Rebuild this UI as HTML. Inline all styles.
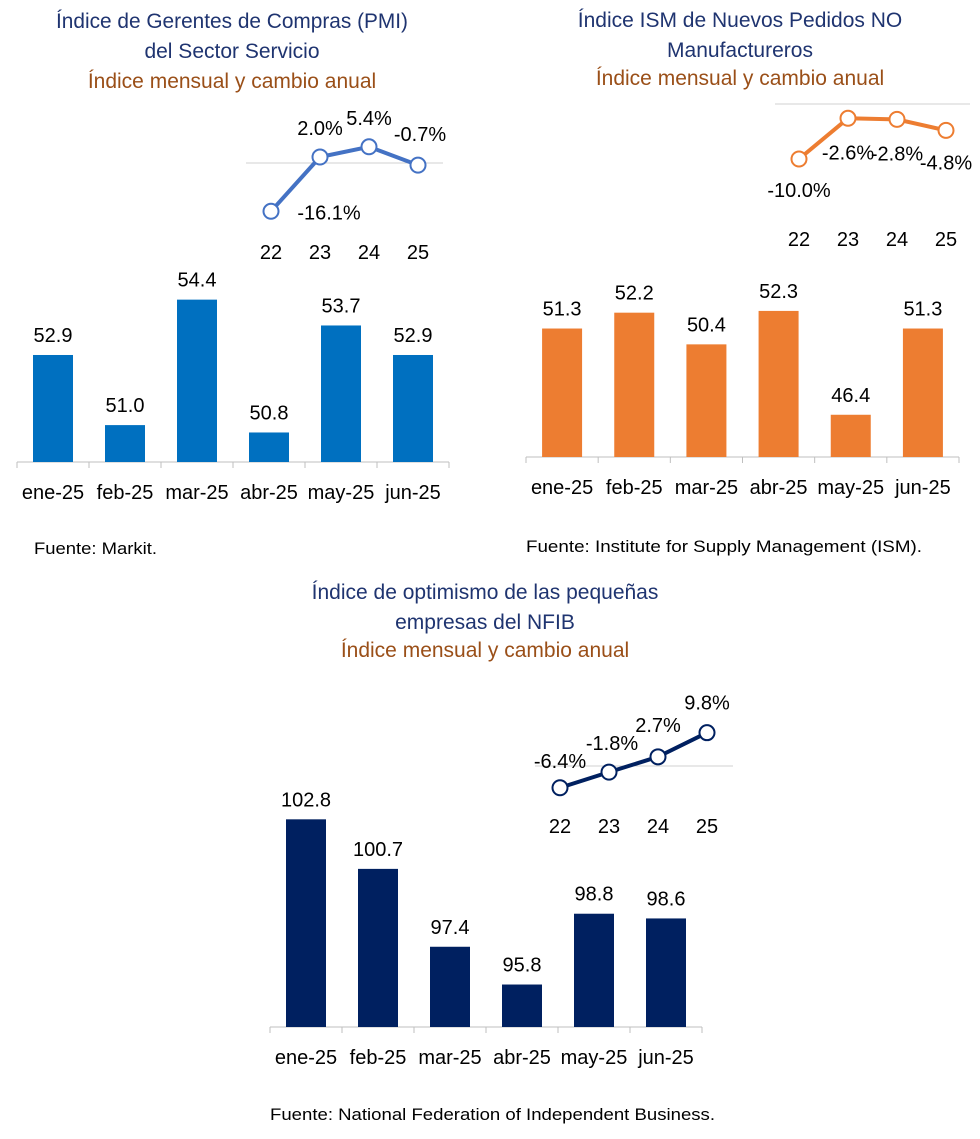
<!DOCTYPE html>
<html><head><meta charset="utf-8"><style>
body{margin:0;background:#fff}
svg{display:block}
text{font-family:"Liberation Sans",sans-serif}
.t{font-family:"Liberation Sans Narrow","Liberation Sans",sans-serif;font-size:21px;text-anchor:middle}
.blue{fill:#1f3470}.brown{fill:#9a4f18}
.v{font-size:20px;fill:#000;text-anchor:middle}
.s{font-family:"Liberation Sans Narrow","Liberation Sans",sans-serif;font-size:17px;fill:#000}
</style></head><body>
<svg id="c" width="980" height="1139" xmlns="http://www.w3.org/2000/svg">
<text class="t blue" x="232" y="28" textLength="352" lengthAdjust="spacingAndGlyphs">Índice de Gerentes de Compras (PMI)</text>
<text class="t blue" x="232" y="58">del Sector Servicio</text>
<text class="t brown" x="232" y="88">Índice mensual y cambio anual</text>
<text class="t blue" x="740" y="27">Índice ISM de Nuevos Pedidos NO</text>
<text class="t blue" x="740" y="57">Manufactureros</text>
<text class="t brown" x="740" y="85">Índice mensual y cambio anual</text>
<text class="t blue" x="485" y="599">Índice de optimismo de las pequeñas</text>
<text class="t blue" x="485" y="629">empresas del NFIB</text>
<text class="t brown" x="485" y="657">Índice mensual y cambio anual</text>
<text class="s" x="34" y="554" textLength="123" lengthAdjust="spacingAndGlyphs">Fuente: Markit.</text>
<text class="s" x="526" y="552" textLength="396" lengthAdjust="spacingAndGlyphs">Fuente: Institute for Supply Management (ISM).</text>
<text class="s" x="270" y="1120" textLength="445" lengthAdjust="spacingAndGlyphs">Fuente: National Federation of Independent Business.</text>
</svg>
<script>
const months = ["ene-25","feb-25","mar-25","abr-25","may-25","jun-25"];
const years = ["22","23","24","25"];
const pmiValues = [52.9,51.0,54.4,50.8,53.7,52.9];
const pmiChanges = [-16.1,2.0,5.4,-0.7];
const ismValues = [51.3,52.2,50.4,52.3,46.4,51.3];
const ismChanges = [-10.0,-2.6,-2.8,-4.8];
const nfibValues = [102.8,100.7,97.4,95.8,98.8,98.6];
const nfibChanges = [-6.4,-1.8,2.7,9.8];

const svg = document.getElementById('c');
const NS = 'http://www.w3.org/2000/svg';
function mk(tag, a){const e=document.createElementNS(NS,tag);for(const k in a)e.setAttribute(k,a[k]);svg.appendChild(e);return e;}

function bars(p, vals, key){
  const cw=(p.x1-p.x0)/vals.length;
  const y=v=>p.base-(v-p.min)*p.k;
  const ax=mk('line',{x1:p.x0,x2:p.x1,y1:p.base,y2:p.base,stroke:'#bfbfbf','stroke-width':1});
  
  
  for(let i=0;i<=vals.length;i++){
    const t=mk('line',{x1:p.x0+i*cw,x2:p.x0+i*cw,y1:p.base,y2:p.base+6,stroke:'#bfbfbf'});
    
    
  }
  vals.forEach((v,i)=>{
    const cx=p.x0+cw*(i+0.5);
    const r=mk('rect',{x:cx-20,y:y(v),width:40,height:p.base-y(v),fill:p.color});
    
    
    const t=mk('text',{x:cx,y:y(v)-13,class:'v'});t.textContent=v.toFixed(1);
    
    
    const m=mk('text',{x:cx,y:p.base+37,class:'v'});m.textContent=months[i];
    
    
  });
}
function inset(p, vals, key){
  const y=v=>p.zero-v*p.k;
  const x=i=>p.px0+i*49;
  const ref=mk('line',{x1:p.lx0,x2:p.lx1,y1:p.zero,y2:p.zero,stroke:'#d0d0d0'});
  
  
  const pl=mk('polyline',{points:vals.map((v,i)=>x(i)+','+y(v)).join(' '),fill:'none',stroke:p.color,'stroke-width':4});
  
  
  vals.forEach((v,i)=>{
    const c=mk('circle',{cx:x(i),cy:y(v),r:7.5,fill:'#fff',stroke:p.color,'stroke-width':2});
    
    
    const o=p.lab[i];
    const t=mk('text',{x:x(i)+o[0],y:y(v)+o[1],class:'v','font-size':'18'});t.textContent=v.toFixed(1)+'%';
    
    
    const yl=mk('text',{x:x(i),y:p.yy,class:'v','font-size':'19'});yl.textContent=years[i];
    
    
  });
}
bars({x0:17,x1:449,base:462,min:50,k:36.9,color:'#0070c0'},pmiValues,'pmi');
inset({px0:271,zero:163,k:3.0,lx0:246,lx1:443,yy:259,color:'#4472c4',lab:[[58,8],[0,-22],[0,-22],[2,-24]]},pmiChanges,'pmi');
bars({x0:526,x1:959,base:457,min:44,k:17.6,color:'#ed7d31'},ismValues,'ism');
inset({px0:799,zero:104,k:5.5,lx0:775,lx1:970,yy:246,color:'#ed7d31',lab:[[0,38],[0,41],[0,41],[0,39]]},ismChanges,'ism');
bars({x0:270,x1:702,base:1027,min:94,k:23.6,color:'#002060'},nfibValues,'nfib');
inset({px0:560,zero:766,k:3.4,lx0:535,lx1:733,yy:833,color:'#002060',lab:[[0,-20],[3,-22],[0,-25],[0,-23]]},nfibChanges,'nfib');
</script>
</body></html>
